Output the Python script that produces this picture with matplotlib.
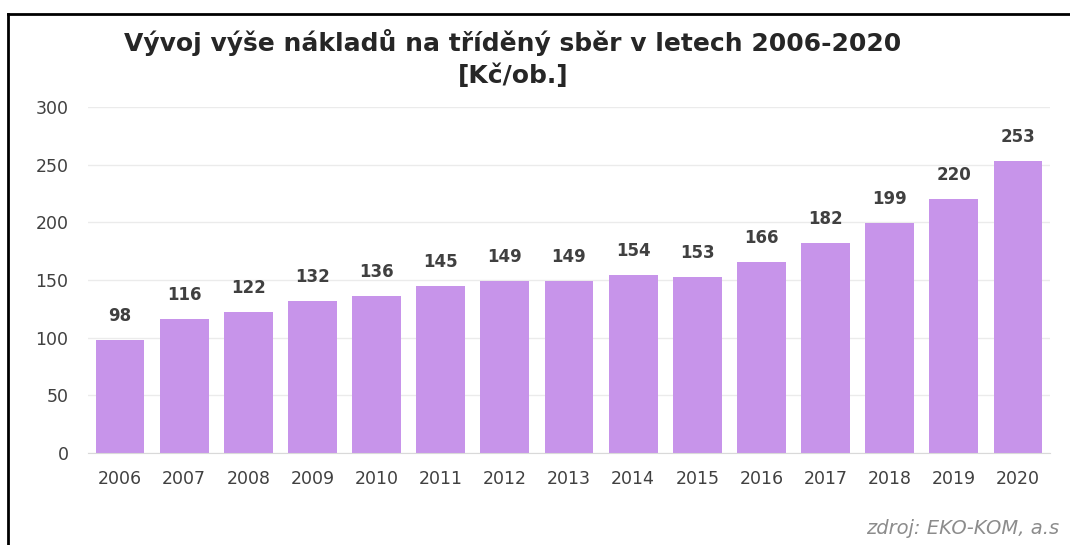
import matplotlib.pyplot as plt
from matplotlib.lines import Line2D

years = ["2006", "2007", "2008", "2009", "2010", "2011", "2012", "2013",
         "2014", "2015", "2016", "2017", "2018", "2019", "2020"]
costs = [98, 116, 122, 132, 136, 145, 149, 149, 154, 153, 166, 182, 199, 220, 253]
yticks = [0, 50, 100, 150, 200, 250, 300]

W, H = 1070, 545
fig = plt.figure(figsize=(W / 100, H / 100), dpi=100)
fig.patch.set_facecolor("white")

# plot area in pixel coordinates
left, right, top, bottom = 88, 1050, 107, 453
ax = fig.add_axes([left / W, (H - bottom) / H, (right - left) / W, (bottom - top) / H])

x = range(len(years))
bars = ax.bar(x, costs, width=0.76, color="#c794ea", zorder=2)
for b, v in zip(bars, costs):
    ax.text(b.get_x() + b.get_width() / 2, v + 13, str(v), ha="center", va="bottom",
            fontsize=12, fontweight="bold", color="#404040")

ax.set_xlim(-0.5, len(years) - 0.5)
ax.set_ylim(0, 300)
ax.set_yticks(yticks)
ax.set_xticks(list(x))
ax.set_xticklabels(years)
ax.tick_params(length=0, labelsize=12.5, colors="#404040")
ax.tick_params(axis="y", pad=14)
ax.tick_params(axis="x", pad=12)
ax.grid(axis="y", color="#ebebeb", linewidth=1, zorder=0)
for s in ["top", "right", "left"]:
    ax.spines[s].set_visible(False)
ax.spines["bottom"].set_color("#d9d9d9")

fig.text(513 / W, 1 - 42 / H, "Vývoj výše nákladů na tříděný sběr v letech 2006-2020",
         ha="center", va="center", fontsize=18, fontweight="bold", color="#262626")
fig.text(513 / W, 1 - 76 / H, "[Kč/ob.]",
         ha="center", va="center", fontsize=18, fontweight="bold", color="#262626")
fig.text(866 / W, 1 - 528 / H, "zdroj: EKO-KOM, a.s", ha="left", va="center",
         fontsize=14, style="italic", color="#8c8c8c")

# frame lines at top and left
fig.add_artist(Line2D([8 / W, 1], [1 - 14 / H, 1 - 14 / H], color="black", lw=2))
fig.add_artist(Line2D([8 / W, 8 / W], [0, 1 - 14 / H], color="black", lw=2))

fig.savefig("out.png", dpi=100)
